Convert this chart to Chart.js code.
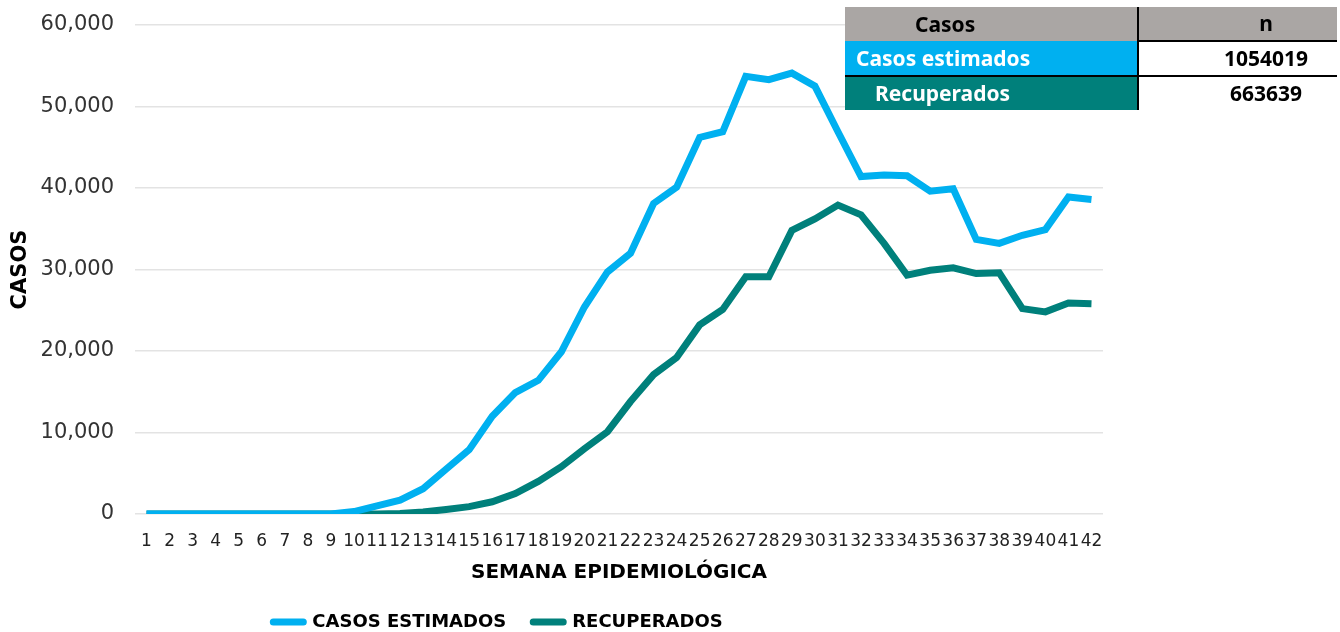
<!DOCTYPE html>
<html lang="es">
<head>
<meta charset="utf-8">
<title>Casos por semana epidemiológica</title>
<script src="https://cdn.jsdelivr.net/npm/chart.js@4.4.1/dist/chart.umd.min.js"></script>
<style>
  html, body { margin: 0; padding: 0; background: #fff; }
  #wrap { position: relative; width: 1340px; height: 632px; }
  #tabla {
    position: absolute; left: 845px; top: 7px; width: 492px;
    border-collapse: collapse; table-layout: fixed;
    font-family: "Noto Sans", "Open Sans", sans-serif; font-weight: bold; font-size: 21px;
  }
  #tabla td, #tabla th { padding: 0; height: 33px; line-height: 33px; white-space: nowrap; box-sizing: border-box; }
  #tabla .col1 { text-align: left; }
  #tabla .col2 { padding-left: 56px; text-align: center; border-left: 2px solid #000; background: #fff; color: #000; }
  #tabla th { background: #aaa6a4; color: #000; }
  #tabla th.col2 { background: #aaa6a4; }
  #tabla .est { background: #00b0f0; color: #fff; padding-left: 11px; }
  #tabla .rec { background: #00807b; color: #fff; padding-left: 30px; border-top: 2px solid #000; }
  #tabla tr.r2 td.col2 { border-top: 2px solid #000; }
  #tabla tr.r3 td.col2 { border-top: 2px solid #000; }
</style>
</head>
<body>
<div id="wrap">
  <canvas id="grafica"></canvas>
  <table id="tabla">
    <colgroup><col style="width:293px"><col style="width:199px"></colgroup>
    <tr><th class="col1" style="padding-left:70px">Casos</th><th class="col2">n</th></tr>
    <tr class="r2"><td class="col1 est">Casos estimados</td><td class="col2">1054019</td></tr>
    <tr class="r3"><td class="col1 rec">Recuperados</td><td class="col2">663639</td></tr>
  </table>
</div>
<script>
// --- DATOS ---
const semanas = Array.from({length: 42}, (_, i) => String(i + 1));

const casosEstimados = [
  0, 0, 0, 0, 0, 0, 0, 0, 0, 300,
  1000, 1700, 3100, 5500, 7900, 12000, 14900, 16400, 19900, 25400,
  29700, 32000, 38100, 40100, 46200, 46900, 53700, 53300, 54100, 52500,
  46900, 41400, 41600, 41500, 39600, 39900, 33700, 33200, 34200, 34900,
  38900, 38600
];

const recuperados = [
  0, 0, 0, 0, 0, 0, 0, 0, 0, 0,
  0, 50, 250, 550, 900, 1500, 2500, 4000, 5800, 8000,
  10100, 13800, 17100, 19200, 23200, 25100, 29100, 29100, 34800, 36200,
  37900, 36700, 33200, 29300, 29900, 30200, 29500, 29600, 25200, 24800,
  25900, 25800
];

const yTicks = [0, 10000, 20000, 30000, 40000, 50000, 60000];

const AZUL = '#00b0f0';
const VERDE = '#00807b';

// --- LEYENDA: se centra bajo la gráfica como en el original ---
const moverLeyenda = {
  id: 'moverLeyenda',
  afterLayout(chart) {
    const lg = chart.legend;
    if (!lg) return;
    lg.left = 0;
    lg.right = 996;
  }
};

new Chart(document.getElementById('grafica'), {
  type: 'line',
  data: {
    labels: semanas,
    datasets: [
      { label: 'CASOS ESTIMADOS', data: casosEstimados, borderColor: AZUL, backgroundColor: AZUL },
      { label: 'RECUPERADOS', data: recuperados, borderColor: VERDE, backgroundColor: VERDE }
    ]
  },
  options: {
    responsive: true,
    maintainAspectRatio: false,
    animation: false,
    layout: { padding: { left: 0, right: 237, top: 25, bottom: 0 } },
    elements: {
      line: { borderWidth: 7, tension: 0, fill: false },
      point: { radius: 0, hoverRadius: 0 }
    },
    plugins: {
      tooltip: { enabled: false },
      legend: {
        position: 'bottom',
        maxHeight: 46,
        labels: {
          usePointStyle: true,
          pointStyleWidth: 30,
          padding: 27,
          color: '#000',
          font: { family: '"DejaVu Sans", sans-serif', size: 18, weight: 'bold' },
          generateLabels: chart => chart.data.datasets.map((ds, i) => ({
            text: ds.label,
            fillStyle: ds.borderColor,
            strokeStyle: ds.borderColor,
            lineWidth: 7,
            lineCap: 'round',
            pointStyle: 'line',
            fontColor: '#000',
            hidden: false,
            datasetIndex: i
          }))
        }
      }
    },
    scales: {
      x: {
        offset: true,
        grid: { display: false, drawTicks: false },
        border: { display: false },
        ticks: {
          autoSkip: false, maxRotation: 0, minRotation: 0, padding: 17,
          color: '#222',
          font: { family: '"DejaVu Sans", sans-serif', size: 17 }
        },
        title: {
          display: true, text: 'SEMANA EPIDEMIOLÓGICA', color: '#000',
          padding: { top: 0, bottom: 1 },
          font: { family: '"DejaVu Sans", sans-serif', size: 20, weight: 'bold' }
        },
        afterFit: s => { s.height = 632 - 514 - 46; }
      },
      y: {
        min: 0, max: 60000,
        afterBuildTicks: s => { s.ticks = yTicks.map(v => ({ value: v })); },
        grid: { color: '#e3e3e3', lineWidth: 1.5, drawTicks: true, tickLength: 18, tickColor: 'rgba(0,0,0,0)' },
        border: { display: false },
        ticks: {
          padding: 3, color: '#333',
          font: { family: '"DejaVu Sans", sans-serif', size: 21 },
          callback: v => v.toLocaleString('en-US')
        },
        title: {
          display: true, text: 'CASOS', color: '#000',
          padding: { top: 8, bottom: 0 },
          font: { family: '"DejaVu Sans", sans-serif', size: 21, weight: 'bold' }
        },
        afterFit: s => { s.width = 135; }
      }
    }
  },
  plugins: [moverLeyenda]
});
</script>
</body>
</html>
